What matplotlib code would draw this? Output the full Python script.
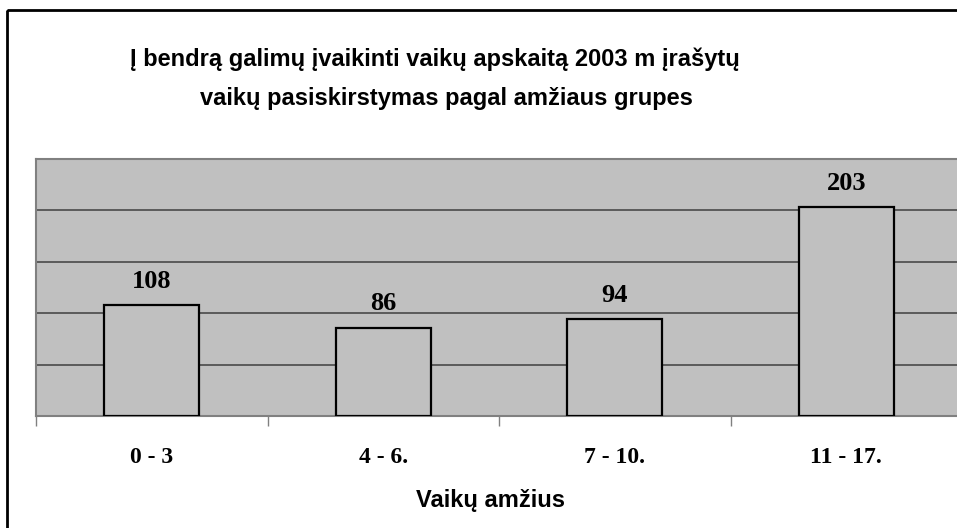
import matplotlib.pyplot as plt
from matplotlib.patches import Rectangle

# data
groups = ["0 - 3", "4 - 6.", "7 - 10.", "11 - 17."]
counts = [108, 86, 94, 203]
title_lines = ["Į bendrą galimų įvaikinti vaikų apskaitą 2003 m įrašytų",
               "vaikų pasiskirstymas pagal amžiaus grupes"]
xlabel = "Vaikų amžius"

W, H = 957, 528
fig = plt.figure(figsize=(W / 100, H / 100), dpi=100)

# outer chart frame (right and bottom edges fall outside the picture)
fig.patches.append(Rectangle((7 / W, 1 - 10 / H), 1.0, -1.2, transform=fig.transFigure,
                             fill=False, edgecolor="black", linewidth=2))

ax = fig.add_axes([36 / W, 112 / H, 926 / W, 257 / H])
ax.set_facecolor("#c0c0c0")

x = range(len(groups))
ax.bar(x, counts, width=0.41, color="#c0c0c0", edgecolor="black", linewidth=1.6, zorder=3)
for xi, v in zip(x, counts):
    ax.text(xi, v + 12, str(v), ha="center", va="bottom", fontsize=19,
            fontweight="bold", family="Liberation Serif", zorder=4)

ax.set_xlim(-0.5, len(groups) - 0.5)
ax.set_ylim(0, 250)
ax.set_yticks([50, 100, 150, 200])
ax.yaxis.grid(True, color="#4a4a4a", linewidth=1.2, zorder=1)
ax.tick_params(axis="y", left=False, labelleft=False)

ax.set_xticks(list(x))
ax.set_xticklabels(groups, fontsize=17, fontweight="bold", family="Liberation Serif")
ax.tick_params(axis="x", which="major", length=0, pad=22)
ax.set_xticks([i - 0.5 for i in range(len(groups) + 1)], minor=True)
ax.tick_params(axis="x", which="minor", length=7, color="#808080", width=1)

for s in ax.spines.values():
    s.set_color("#808080")
    s.set_linewidth(1.5)
ax.spines["right"].set_visible(False)

ax.set_xlabel(xlabel, fontsize=17, fontweight="bold", family="Liberation Sans")
ax.xaxis.set_label_coords((490 - 36) / 926, -(507 - 416) / 257)
ax.xaxis.label.set_va("baseline")

fig.text(435 / W, 1 - 66 / H, title_lines[0], ha="center", va="baseline",
         fontsize=17, fontweight="bold", family="Liberation Sans")
fig.text(446 / W, 1 - 105 / H, title_lines[1], ha="center", va="baseline",
         fontsize=17, fontweight="bold", family="Liberation Sans")

fig.savefig("out.png", dpi=100)
plt.close(fig)
